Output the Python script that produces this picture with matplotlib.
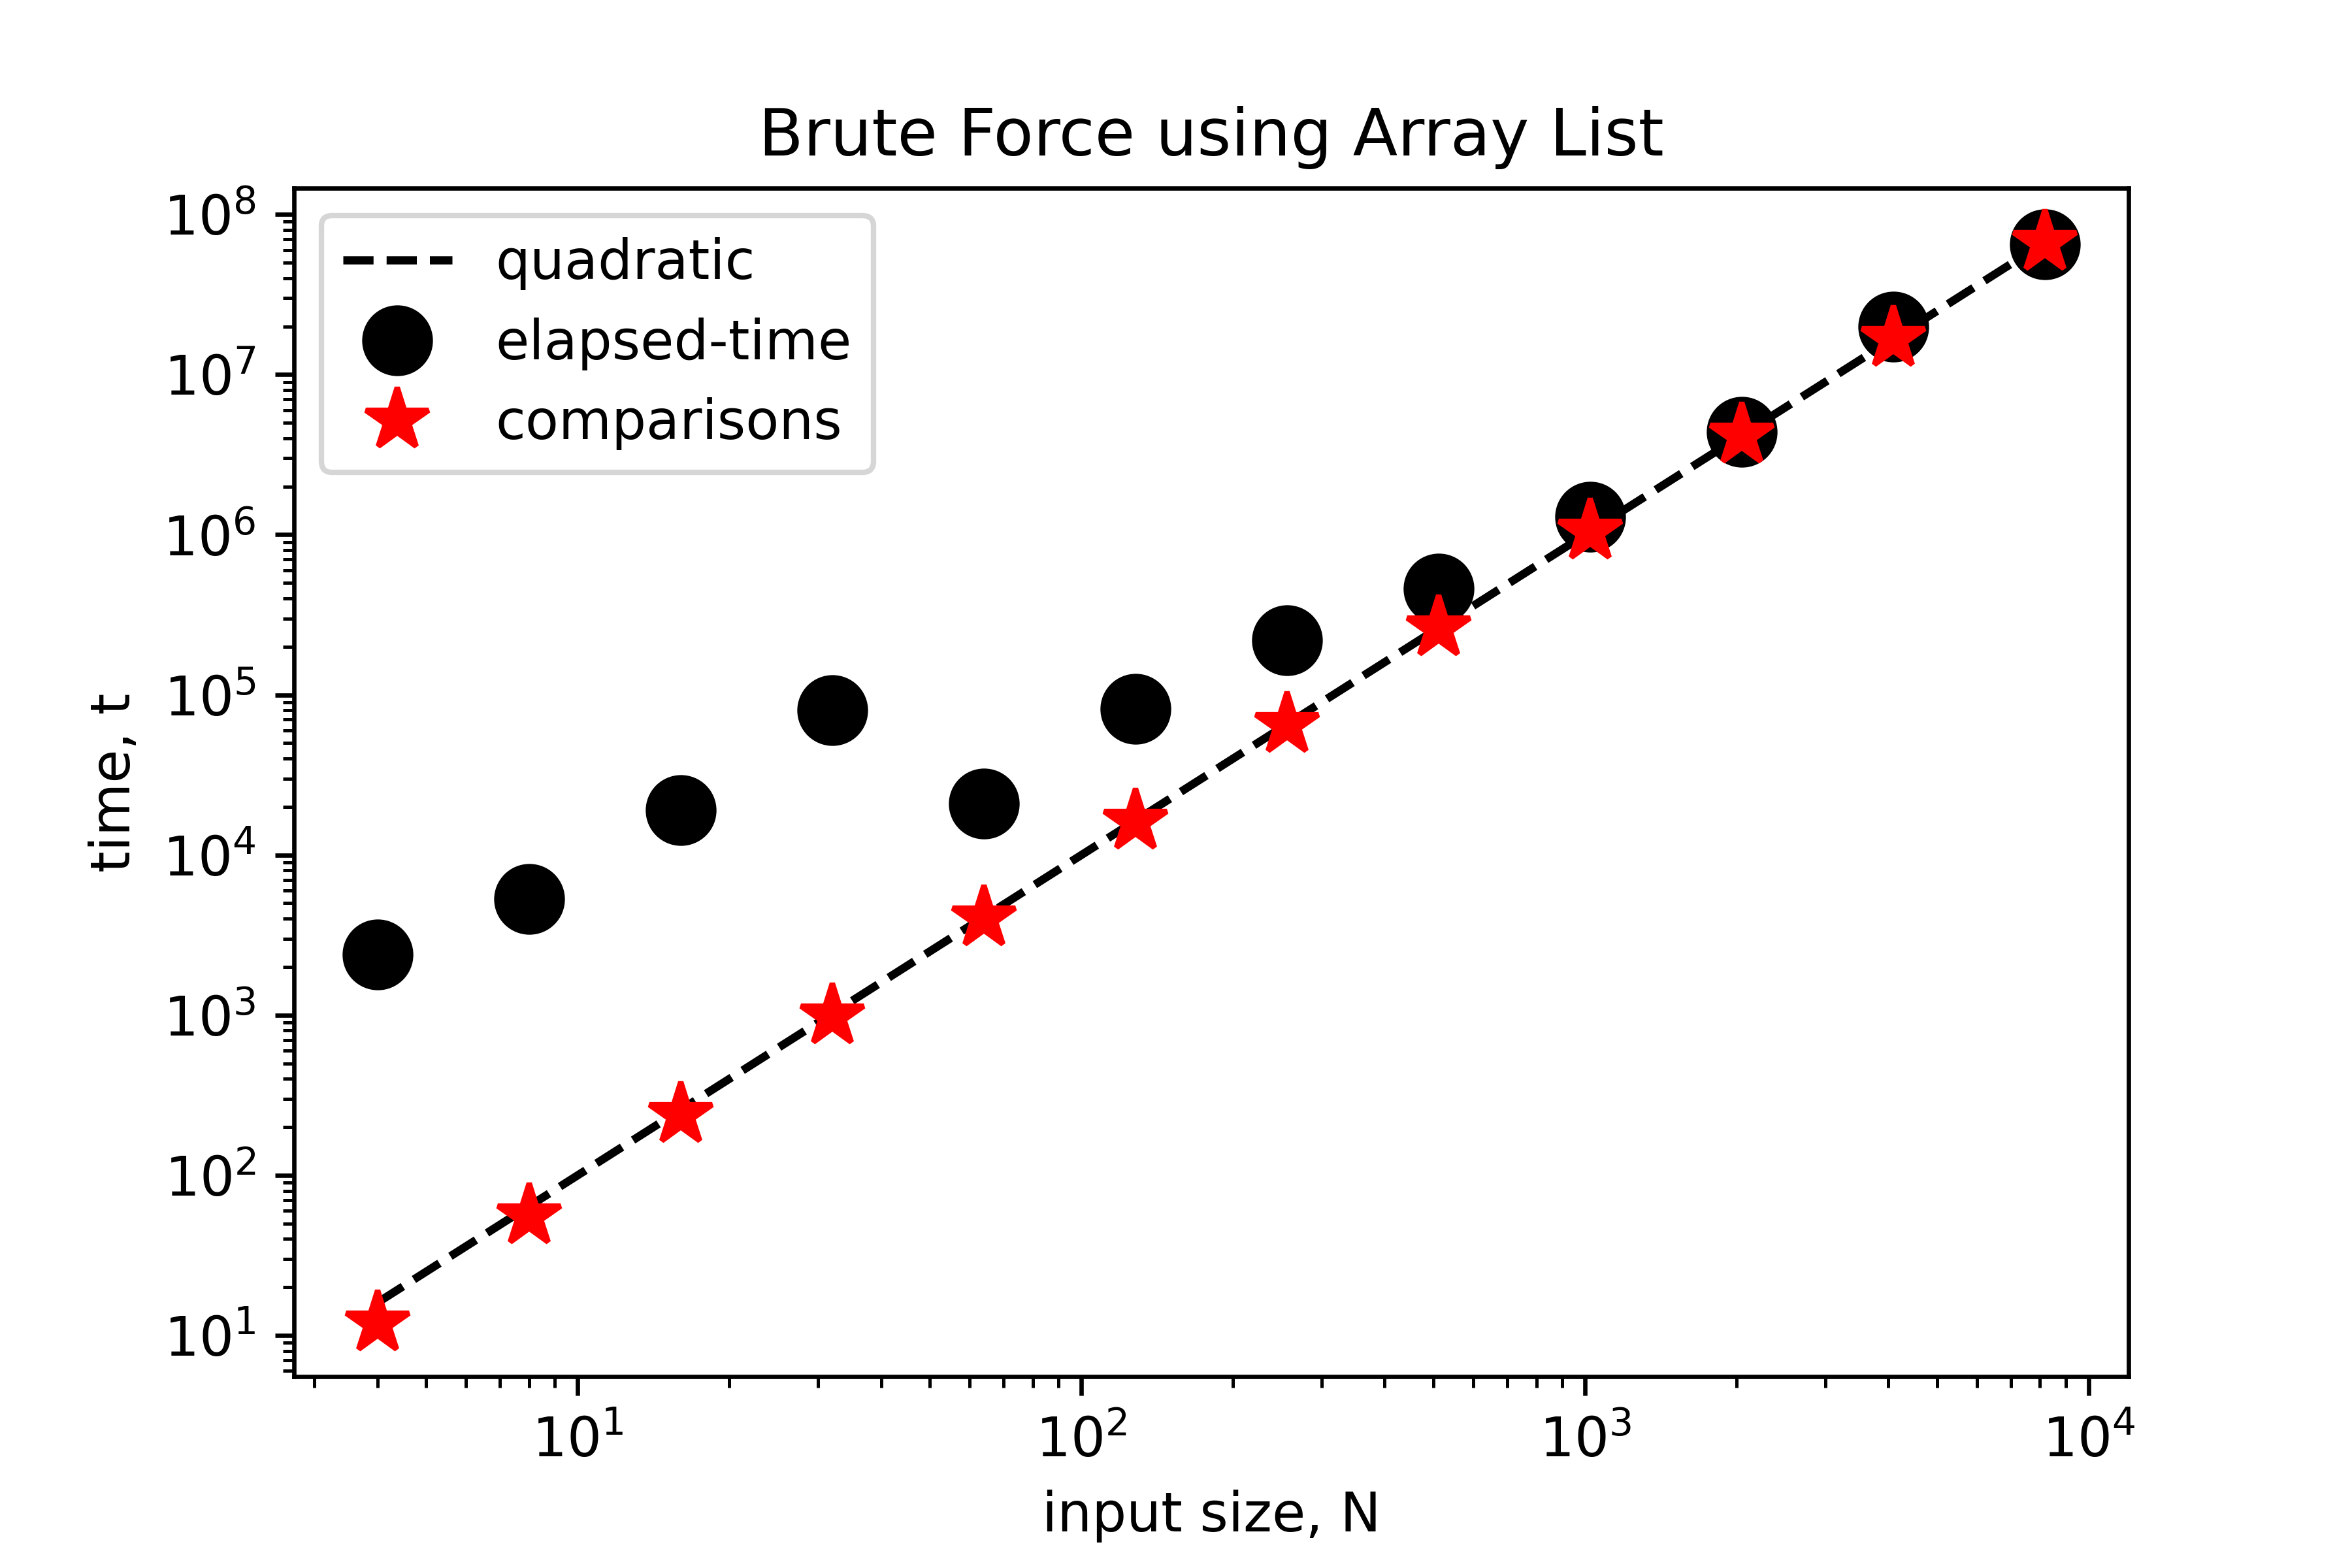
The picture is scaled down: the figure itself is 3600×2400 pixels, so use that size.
import matplotlib
matplotlib.use("Agg")
import matplotlib.pyplot as plt

N = [4, 8, 16, 32, 64, 128, 256, 512, 1024, 2048, 4096, 8192]
quadratic = [16, 64, 256, 1024, 4096, 16384, 65536, 262144, 1048576, 4194304, 16777216, 67108864]
elapsed = [2400, 5300, 19000, 80000, 21000, 82000, 220000, 460000, 1.3e6, 4.4e6, 2.0e7, 6.5e7]
comparisons = [12, 56, 240, 992, 4032, 16256, 65280, 261632, 1047552, 4192256, 16773120, 67100672]

fig, ax = plt.subplots(figsize=(6, 4), dpi=600)
fig.subplots_adjust(bottom=0.122, top=0.88, left=0.125, right=0.905)
ax.loglog(N, quadratic, 'k--', label='quadratic')
ax.loglog(N, elapsed, 'ko', markersize=12, linestyle='none', label='elapsed-time')
ax.loglog(N, comparisons, 'r*', markersize=12, linestyle='none', label='comparisons')
ax.set_title('Brute Force using Array List')
ax.set_xlabel('input size, N')
ax.set_ylabel('time, t')
ax.legend(loc='upper left')
fig.savefig('out.png')
